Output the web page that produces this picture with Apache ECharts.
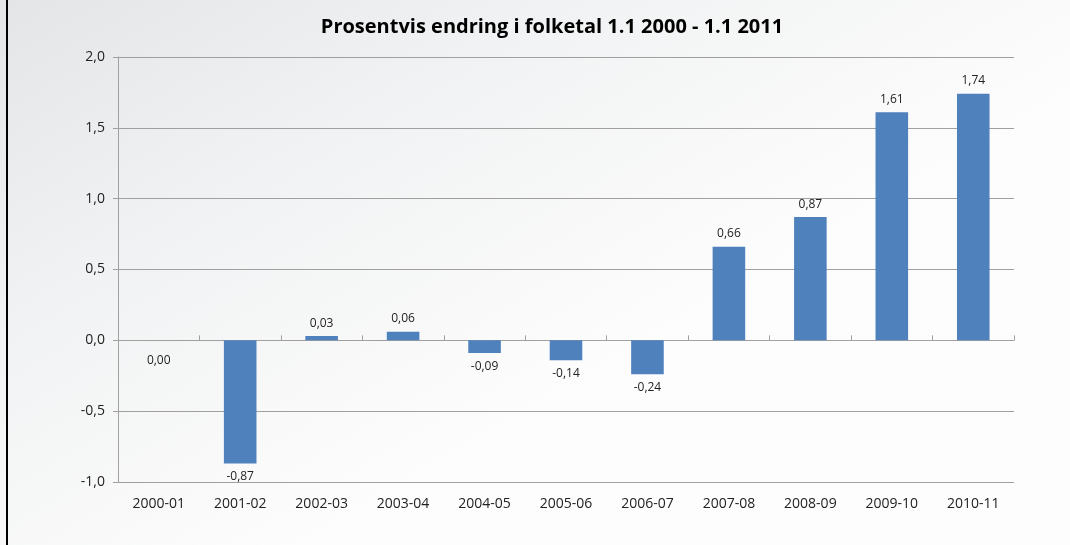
<!DOCTYPE html>
<html>
<head>
<meta charset="utf-8">
<script src="https://cdn.jsdelivr.net/npm/echarts@6/dist/echarts.min.js"></script>
<style>html,body{margin:0;padding:0;background:#fff}#c{width:1070px;height:545px}</style>
</head>
<body>
<div id="c"></div>
<script>
const titleText = 'Prosentvis endring i folketal 1.1 2000 - 1.1 2011';
const categories = ['2000-01','2001-02','2002-03','2003-04','2004-05','2005-06','2006-07','2007-08','2008-09','2009-10','2010-11'];
const values = [0.00, -0.87, 0.03, 0.06, -0.09, -0.14, -0.24, 0.66, 0.87, 1.61, 1.74];
const yMin = -1.0, yMax = 2.0, yInterval = 0.5;

const fmt = (v, d) => v.toFixed(d).replace('.', ',');
const font = '"Open Sans", "Noto Sans", sans-serif';
const barColor = '#4f81bd';

const chart = echarts.init(document.getElementById('c'), null, {renderer: 'canvas'});
chart.setOption({
  animation: false,
  backgroundColor: {
    type: 'linear', x: 0, y: 0, x2: 0.3, y2: 1,
    colorStops: [
      {offset: 0, color: '#e4e5e7'},
      {offset: 0.45, color: '#f1f2f3'},
      {offset: 1, color: '#fdfdfd'}
    ]
  },
  graphic: [
    {type: 'rect', shape: {x: 6, y: 0, width: 2, height: 545}, style: {fill: '#000'}, z: 100}
  ],
  title: {
    text: titleText,
    left: 547, top: 12, textAlign: 'center',
    textStyle: {fontFamily: font, fontWeight: 'bold', fontSize: 20, color: '#000'}
  },
  grid: {left: 118, right: 56, top: 57, bottom: 63, containLabel: false},
  xAxis: [
    {
      type: 'category', data: categories, position: 'bottom',
      axisLine: {show: false, onZero: false}, axisTick: {show: false},
      axisLabel: {fontFamily: font, fontSize: 14, color: '#222', margin: 15}
    },
    {
      type: 'category', data: categories,
      axisLine: {show: true, onZero: true, lineStyle: {color: '#a0a0a0', width: 1}},
      axisTick: {show: true, inside: false, length: 5, lineStyle: {color: '#a0a0a0'}},
      axisLabel: {show: false}
    }
  ],
  yAxis: {
    type: 'value', min: yMin, max: yMax, interval: yInterval,
    axisLine: {show: true, lineStyle: {color: '#a0a0a0'}},
    axisTick: {show: true, length: 5, lineStyle: {color: '#a0a0a0'}},
    axisLabel: {fontFamily: font, fontSize: 14, color: '#222', margin: 13, formatter: v => fmt(v, 1)},
    splitLine: {show: true, lineStyle: {color: '#a0a0a0', width: 1}}
  },
  series: [{
    type: 'bar', xAxisIndex: 0,
    barWidth: '40%',
    itemStyle: {color: barColor},
    data: values.map(v => ({
      value: v,
      label: {position: v > 0.001 ? 'top' : 'bottom', distance: Math.abs(v) < 0.001 ? 14 : 7}
    })),
    label: {
      show: true, distance: 7,
      fontFamily: font, fontSize: 12, color: '#222',
      formatter: p => fmt(p.value, 2)
    }
  }]
});
</script>
</body>
</html>
